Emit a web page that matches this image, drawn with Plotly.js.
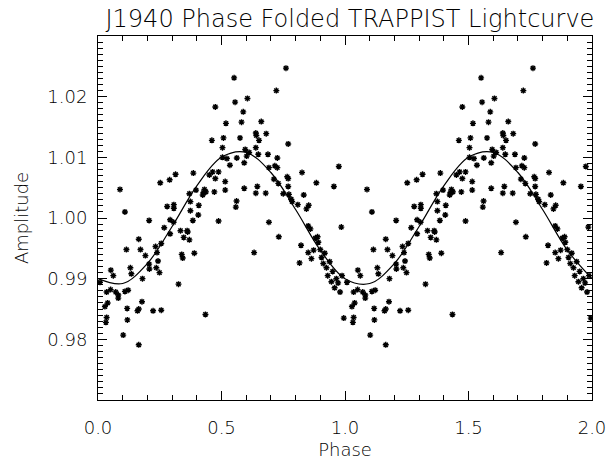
<!DOCTYPE html>
<html>
<head>
<meta charset="utf-8">
<script src="https://cdn.plot.ly/plotly-3.0.1.min.js"></script>
<style>html,body{margin:0;padding:0;background:#fff;}#chart{width:613px;height:460px;}</style>
</head>
<body>
<div id="chart"></div>
<script>
// Phase-folded measurements (one cycle, phase 0..1); plotted twice (0..2)
const phase = [
0.109,0.280,0.307,0.307,0.207,0.292,0.306,0.268,0.292,0.165,
0.115,0.172,0.192,0.233,0.239,0.243,0.207,0.208,0.236,0.249,
0.131,0.135,0.052,0.062,0.180,0.008,0.035,0.051,0.072,0.082,
0.082,0.109,0.122,0.028,0.039,0.118,0.160,0.165,0.178,0.223,
0.256,0.035,0.032,0.119,0.102,0.165,0.326,0.089,0.252,0.290,
0.314,0.475,0.518,0.461,0.508,0.504,0.504,0.522,0.386,0.451,
0.464,0.488,0.475,0.515,0.370,0.397,0.431,0.427,0.437,0.424,
0.471,0.515,0.374,0.408,0.384,0.488,0.761,0.551,0.722,0.555,
0.605,0.588,0.581,0.661,0.639,0.641,0.681,0.575,0.652,0.770,
0.639,0.596,0.612,0.602,0.649,0.688,0.562,0.726,0.592,0.534,
0.692,0.716,0.726,0.766,0.770,0.826,0.712,0.730,0.770,0.645,
0.592,0.639,0.679,0.750,0.773,0.782,0.786,0.809,0.833,0.853,
0.844,0.561,0.558,0.374,0.406,0.884,0.692,0.732,0.632,0.822,
0.851,0.860,0.880,0.889,0.851,0.873,0.864,0.816,0.334,0.361,
0.363,0.347,0.370,0.339,0.343,0.390,0.435,0.256,
0.892,0.900,0.905,0.912,0.918,0.925,0.930,0.938,0.945,0.950,
0.958,0.965,0.972,0.980,0.988,0.995,0.955,0.975,0.985
];
const amplitude = [
1.0010,1.0019,1.0022,1.0016,0.9996,0.9997,0.9993,0.9984,0.9974,0.9965,
0.9948,0.9948,0.9938,0.9953,0.9943,0.9929,0.9924,0.9916,0.9918,0.9910,
0.9918,0.9908,0.9914,0.9905,0.9900,0.9894,0.9878,0.9882,0.9878,0.9873,
0.9868,0.9879,0.9881,0.9854,0.9860,0.9851,0.9847,0.9850,0.9862,0.9847,
0.9848,0.9836,0.9828,0.9832,0.9807,0.9791,0.9891,1.0047,1.0058,1.0063,
1.0072,1.0183,1.0156,1.0128,1.0132,1.0116,1.0100,1.0098,1.0074,1.0071,
1.0076,1.0076,1.0065,1.0060,1.0040,1.0046,1.0047,1.0042,1.0043,1.0038,
1.0043,1.0046,1.0027,1.0021,0.9996,0.9995,1.0247,1.0231,1.0210,1.0191,
1.0197,1.0175,1.0158,1.0159,1.0140,1.0136,1.0139,1.0132,1.0128,1.0122,
1.0116,1.0113,1.0108,1.0102,1.0105,1.0105,1.0099,1.0099,1.0091,1.0087,
1.0083,1.0086,1.0083,1.0068,1.0065,1.0075,1.0064,1.0057,1.0052,1.0052,
1.0049,1.0041,1.0041,1.0040,1.0039,1.0031,1.0027,1.0022,1.0038,1.0021,
1.0015,1.0028,1.0018,1.0012,1.0005,1.0058,0.9993,0.9969,0.9943,0.9955,
0.9987,0.9982,0.9967,0.9969,0.9943,0.9947,0.9933,0.9926,0.9979,0.9979,
0.9977,0.9968,0.9964,0.9940,0.9934,0.9942,0.9841,0.9958,
0.9960,0.9948,0.9935,0.9925,0.9942,0.9918,0.9905,0.9928,0.9895,0.9912,
0.9885,0.9900,0.9893,0.9878,0.9905,0.9835,1.0052,1.0085,0.9985
];
// Sinusoidal fit curve, read at phase steps of 0.1
const fitPhase = [0.0,0.1,0.2,0.3,0.4,0.5,0.6,0.7,0.8,0.9,1.0];
const fitAmp   = [0.9900,0.9892,0.9925,0.9986,1.0053,1.0100,1.0108,1.0075,1.0014,0.9947,0.9900];

const xTickVals = [0, 0.5, 1.0, 1.5, 2.0];
const xTickText = ['0.0','0.5','1.0','1.5','2.0'];
const yTickVals = [0.98, 0.99, 1.00, 1.01, 1.02];
const yTickText = ['0.98','0.99','1.00','1.01','1.02'];

const px = phase.concat(phase.map(p => p + 1));
const py = amplitude.concat(amplitude);
const fx = fitPhase.concat(fitPhase.slice(1).map(p => p + 1));
const fy = fitAmp.concat(fitAmp.slice(1));

const FONT = 'DejaVu Sans, Liberation Sans, sans-serif';

const traces = [
  {x: px, y: py, type: 'scatter', mode: 'markers',
   marker: {symbol: 'asterisk-open', size: 5, color: '#000', line: {color: '#000', width: 1.4}},
   hoverinfo: 'skip', showlegend: false},
  {x: fx, y: fy, type: 'scatter', mode: 'lines', line: {color: '#000', width: 1.2, shape: 'spline', smoothing: 1.0},
   hoverinfo: 'skip', showlegend: false}
];

const layout = {
  width: 613, height: 460,
  margin: {l: 98, r: 21, t: 36, b: 60},
  paper_bgcolor: '#fff', plot_bgcolor: '#fff',
  font: {family: FONT, color: '#000', size: 18, weight: 300},
  title: {text: 'J1940 Phase Folded TRAPPIST Lightcurve', font: {family: FONT, size: 24, color: '#000', weight: 300},
          x: 0.51, xref: 'paper', xanchor: 'center', y: 0.96, yref: 'container', yanchor: 'middle'},
  xaxis: {
    range: [0, 2], showgrid: false, zeroline: false,
    showline: true, linecolor: '#000', linewidth: 1, mirror: 'allticks',
    ticks: 'inside', ticklen: 9, tickwidth: 1, tickcolor: '#000',
    tickmode: 'array', tickvals: xTickVals, ticktext: xTickText,
    ticklabelstandoff: 11,
    tickfont: {family: FONT, size: 18, color: '#000'},
    minor: {dtick: 0.1, ticks: 'inside', ticklen: 5, tickwidth: 1, tickcolor: '#000', showgrid: false},
    title: {text: 'Phase', font: {family: FONT, size: 18, color: '#000'}, standoff: 7}
  },
  yaxis: {
    range: [0.97, 1.03], showgrid: false, zeroline: false,
    showline: true, linecolor: '#000', linewidth: 1, mirror: 'allticks',
    ticks: 'inside', ticklen: 9, tickwidth: 1, tickcolor: '#000',
    tickmode: 'array', tickvals: yTickVals, ticktext: yTickText,
    ticklabelstandoff: 6,
    tickfont: {family: FONT, size: 18, color: '#000'},
    minor: {dtick: 0.001, ticks: 'inside', ticklen: 5, tickwidth: 1, tickcolor: '#000', showgrid: false},
    title: {text: 'Amplitude', font: {family: FONT, size: 18, color: '#000'}, standoff: 14}
  }
};

Plotly.newPlot('chart', traces, layout, {staticPlot: true, displayModeBar: false});
</script>
</body>
</html>
